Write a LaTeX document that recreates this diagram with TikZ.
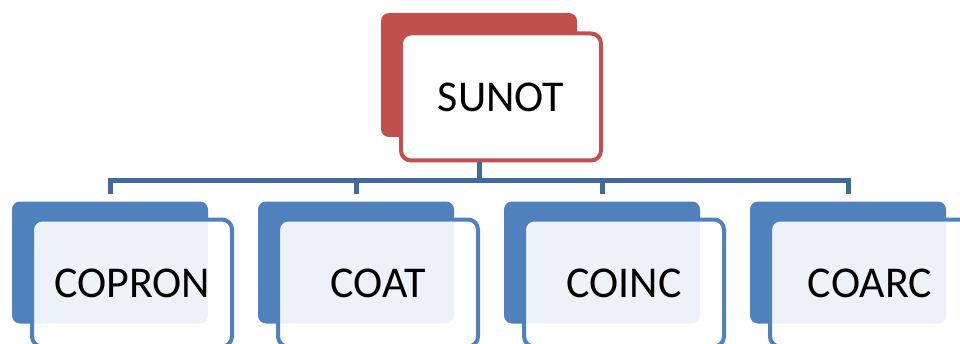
\documentclass[tikz,border=0pt]{standalone}
\usepackage{fontspec}
\setmainfont{Carlito}
\usetikzlibrary{positioning}
\definecolor{orgred}{RGB}{192,80,77}
\definecolor{orgblue}{RGB}{79,129,189}
\definecolor{busblue}{RGB}{62,106,160}
\tikzset{
  backbox/.style={rectangle, rounded corners=8pt, inner sep=0pt,
    minimum width=196pt, minimum height=122pt},
  frontbox/.style={rectangle, rounded corners=10pt, draw, line width=4pt,
    inner sep=0pt, minimum width=200pt, minimum height=127pt,
    font=\fontsize{44}{50}\selectfont},
  bus/.style={busblue, line width=5pt}
}
\begin{document}
\begin{tikzpicture}[x=1pt,y=1pt]
    \useasboundingbox (0,0) rectangle (960,343);
    % Top box.
    \node[backbox, fill=orgred, minimum height=124pt] (sunotback) at (479,268) {};
    \node[frontbox, draw=orgred, fill=white] (sunot) at ([shift={(22pt,-22pt)}]sunotback.center) {SUNOT};
    % Children.
    \foreach \name/\txt/\x in {copron/COPRON/110, coat/COAT/356, coinc/COINC/602, coarc/COARC/848} {
        \node[backbox, fill=orgblue] (\name back) at (\x,80.5) {};
        \node[frontbox, draw=orgblue, fill=white, fill opacity=0.9, text opacity=1] (\name) at ([shift={(22pt,-20.5pt)}]\name back.center) {\txt};
    }
    % Connectors.
    \coordinate (hub) at ([yshift=-18pt]sunotback.center |- sunot.south);
    \draw[bus] (sunotback.center |- sunot.south) -- (hub);
    \draw[bus] ([yshift=7pt]copronback.north) |- (hub) -| ([yshift=7pt]coarcback.north);
    \draw[bus] ([yshift=7pt]coatback.north) -- (coatback.north |- hub);
    \draw[bus] ([yshift=7pt]coincback.north) -- (coincback.north |- hub);
\end{tikzpicture}
\end{document}
